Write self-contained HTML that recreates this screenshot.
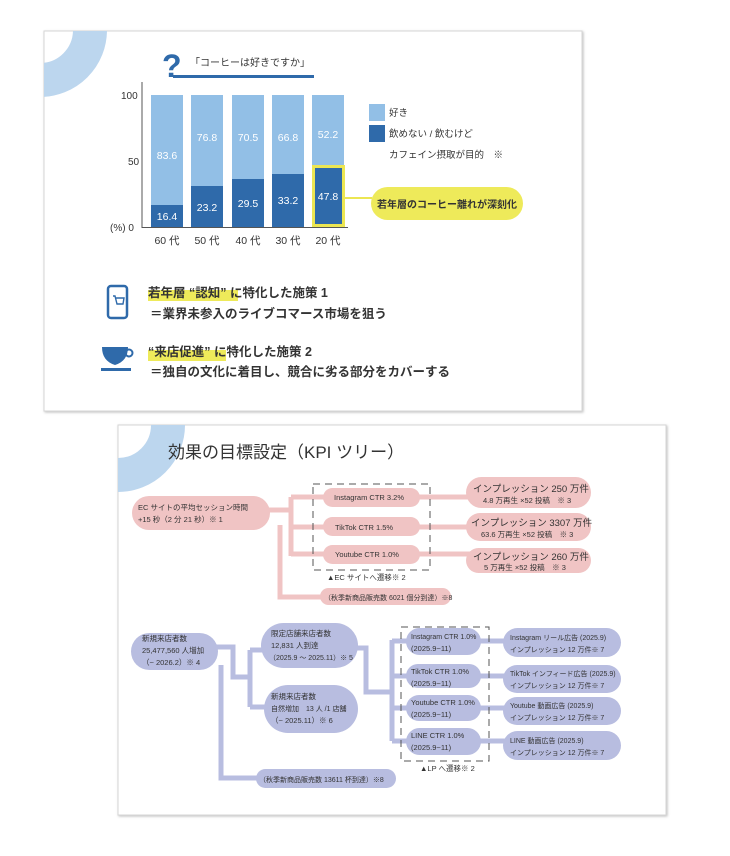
<!DOCTYPE html>
<html><head><meta charset="utf-8"><style>
html,body{margin:0;padding:0;background:#fff;}
svg{display:block;font-family:"Liberation Sans","Noto Sans CJK JP",sans-serif;}
text{fill:#333;}
.w{fill:#fff;}
</style></head><body>
<svg width="730" height="856" viewBox="0 0 730 856" xmlns="http://www.w3.org/2000/svg">
<defs>
<clipPath id="c1"><rect x="44" y="31" width="538" height="380"/></clipPath>
<clipPath id="c2"><rect x="118" y="425" width="548" height="390"/></clipPath>
<filter id="sh" x="-5%" y="-5%" width="110%" height="110%"><feDropShadow dx="1" dy="1" stdDeviation="1.2" flood-color="#000" flood-opacity="0.25"/></filter>
</defs>
<!-- Card 1 -->
<rect x="44" y="31" width="538" height="380" fill="#fff" stroke="#d6d6d6" filter="url(#sh)"/>
<g clip-path="url(#c1)"><circle cx="40" cy="30" r="50" fill="none" stroke="#bcd6ee" stroke-width="34"/></g>
<text x="162" y="77" font-size="32" font-weight="bold" style="fill:#2f6aaa">?</text>
<rect x="173" y="75" width="141" height="3" fill="#2f6aaa"/>
<text x="190" y="66" font-size="10">「コーヒーは好きですか」</text>
<line x1="142" y1="82" x2="142" y2="228" stroke="#555" stroke-width="1"/>
<line x1="142" y1="227.5" x2="348" y2="227.5" stroke="#555" stroke-width="1"/>
<g font-size="10"><text x="121" y="99">100</text><text x="128" y="165">50</text><text x="110" y="231">(%) 0</text></g>
<g>
<rect x="151" y="95" width="32" height="132" fill="#92bfe6"/><rect x="151" y="205" width="32" height="22" fill="#2f6aaa"/>
<rect x="191" y="95" width="32" height="132" fill="#92bfe6"/><rect x="191" y="186" width="32" height="41" fill="#2f6aaa"/>
<rect x="232" y="95" width="32" height="132" fill="#92bfe6"/><rect x="232" y="179" width="32" height="48" fill="#2f6aaa"/>
<rect x="272" y="95" width="32" height="132" fill="#92bfe6"/><rect x="272" y="174" width="32" height="53" fill="#2f6aaa"/>
<rect x="312" y="95" width="32" height="132" fill="#92bfe6"/><rect x="312" y="166" width="32" height="61" fill="#2f6aaa"/>
<rect x="313.5" y="166.5" width="30" height="59" fill="none" stroke="#ece652" stroke-width="3"/>
</g>
<g font-size="10.5" text-anchor="middle">
<text class="w" x="167" y="159">83.6</text><text class="w" x="207" y="141">76.8</text><text class="w" x="248" y="141">70.5</text><text class="w" x="288" y="141">66.8</text><text class="w" x="328" y="138">52.2</text>
<text class="w" x="167" y="220">16.4</text><text class="w" x="207" y="211">23.2</text><text class="w" x="248" y="207">29.5</text><text class="w" x="288" y="204">33.2</text><text class="w" x="328" y="200">47.8</text>
</g>
<g font-size="10.5" text-anchor="middle"><text x="167" y="244">60 代</text><text x="207" y="244">50 代</text><text x="248" y="244">40 代</text><text x="288" y="244">30 代</text><text x="328" y="244">20 代</text></g>
<line x1="345" y1="198" x2="372" y2="198" stroke="#ece652" stroke-width="2"/>
<rect x="371" y="187" width="152" height="33" rx="16.5" fill="#eeea5a"/>
<text x="447" y="208" font-size="10" font-weight="bold" text-anchor="middle">若年層のコーヒー離れが深刻化</text>
<rect x="369" y="104" width="16" height="17" fill="#92bfe6"/><rect x="369" y="125" width="16" height="17" fill="#2f6aaa"/>
<g font-size="9.5"><text x="389" y="116">好き</text><text x="389" y="137">飲めない / 飲むけど</text><text x="389" y="158">カフェイン摂取が目的　※</text></g>
<rect x="108" y="286" width="19" height="32" rx="3" fill="none" stroke="#2f6aaa" stroke-width="2.5"/>
<path d="M113 296 h2 l2 8 h6 l1-6 h-8" fill="none" stroke="#2f6aaa" stroke-width="1.4"/>
<path d="M102 347 h26 q0 14 -13 18 q-13 -4 -13 -18z" fill="#2f6aaa"/>
<circle cx="129" cy="353" r="3.5" fill="none" stroke="#2f6aaa" stroke-width="2"/>
<rect x="101" y="368" width="30" height="3" fill="#2f6aaa"/>
<rect x="148" y="290" width="90" height="11" fill="#eeea5a"/>
<rect x="148" y="350" width="78" height="11" fill="#eeea5a"/>
<g font-size="12.5" font-weight="bold">
<text x="148" y="297">若年層 “認知” に特化した施策 1</text>
<text x="150" y="318">＝業界未参入のライブコマース市場を狙う</text>
<text x="148" y="356">“来店促進” に特化した施策 2</text>
<text x="150" y="376">＝独自の文化に着目し、競合に劣る部分をカバーする</text>
</g>
<!-- Card 2 -->
<rect x="118" y="425" width="548" height="390" fill="#fff" stroke="#d6d6d6" filter="url(#sh)"/>
<g clip-path="url(#c2)"><circle cx="118" cy="425" r="50" fill="none" stroke="#bcd6ee" stroke-width="34"/></g>
<text x="168" y="458" font-size="17">効果の目標設定（KPI ツリー）</text>
<g stroke="#f0c4c4" stroke-width="5" fill="none">
<path d="M265 510 H291 M291 497 V556 M291 497 H330 M291 527 H330 M291 554 H330"/>
<path d="M415 497 H470 M415 527 H470 M415 554 H470"/>
<path d="M280 525 V597 H325"/>
</g>
<g fill="#f0c4c4">
<rect x="132" y="496" width="138" height="34" rx="17"/>
<rect x="323" y="488" width="97" height="19" rx="9.5"/>
<rect x="323" y="517" width="97" height="19" rx="9.5"/>
<rect x="323" y="545" width="97" height="19" rx="9.5"/>
<rect x="466" y="477" width="125" height="31" rx="15.5"/>
<rect x="466" y="513" width="125" height="28" rx="14"/>
<rect x="466" y="548" width="125" height="25" rx="12.5"/>
<rect x="320" y="588" width="131" height="17" rx="8.5"/>
</g>
<rect x="313" y="484" width="117" height="86" fill="none" stroke="#555" stroke-dasharray="7,5"/>
<g font-size="7.5">
<text x="138" y="510">EC サイトの平均セッション時間</text><text x="138" y="522">+15 秒（2 分 21 秒）※ 1</text>
<text x="334" y="500">Instagram CTR 3.2%</text><text x="335" y="530">TikTok CTR 1.5%</text><text x="335" y="557">Youtube CTR 1.0%</text>
<text x="327" y="580">▲EC サイトへ遷移※ 2</text>
<text x="324" y="600" font-size="7">（秋季新商品販売数 6021 個分到達）※8</text>
<text x="483" y="503">4.8 万再生 ×52 投稿　※ 3</text><text x="481" y="537">63.6 万再生 ×52 投稿　※ 3</text><text x="484" y="570">5 万再生 ×52 投稿　※ 3</text>
</g>
<g font-size="9.5"><text x="473" y="492">インプレッション 250 万件</text><text x="471" y="526">インプレッション 3307 万件</text><text x="473" y="560">インプレッション 260 万件</text></g>
<g stroke="#b8bde0" stroke-width="5" fill="none">
<path d="M215 647 H233 V677 H250 M250 650 V707 M250 650 H265 M250 707 H268"/>
<path d="M355 648 H366 V692 H392 M392 640 V741 M392 641 H410 M392 676 H410 M392 708 H410 M392 741 H410"/>
<path d="M478 641 H506 M478 676 H506 M478 708 H506 M478 741 H506"/>
<path d="M221 665 V778 H262"/>
</g>
<g fill="#b8bde0">
<rect x="131" y="633" width="87" height="37" rx="18.5"/>
<rect x="261" y="623" width="97" height="45" rx="22.5"/>
<rect x="264" y="685" width="94" height="48" rx="24"/>
<rect x="406" y="628" width="75" height="27" rx="13.5"/>
<rect x="406" y="664" width="75" height="24" rx="12"/>
<rect x="406" y="695" width="75" height="26" rx="13"/>
<rect x="406" y="728" width="75" height="27" rx="13.5"/>
<rect x="503" y="628" width="118" height="29" rx="14.5"/>
<rect x="503" y="665" width="118" height="28" rx="14"/>
<rect x="503" y="697" width="118" height="28" rx="14"/>
<rect x="503" y="731" width="118" height="29" rx="14.5"/>
<rect x="256" y="769" width="140" height="19" rx="9.5"/>
</g>
<rect x="401" y="627" width="88" height="134" fill="none" stroke="#555" stroke-dasharray="7,5"/>
<g font-size="7.5">
<text x="142" y="641">新規来店者数</text><text x="142" y="653">25,477,560 人増加</text><text x="142" y="665">（~ 2026.2）※ 4</text>
<text x="271" y="636">限定店舗来店者数</text><text x="271" y="648">12,831 人到達</text><text x="269" y="660" font-size="7">（2025.9 ～ 2025.11）※ 5</text>
<text x="271" y="699">新規来店者数</text><text x="271" y="711" font-size="7">自然増加　13 人 /1 店舗</text><text x="271" y="723">（~ 2025.11）※ 6</text>
<text x="411" y="639" font-size="7">Instagram CTR 1.0%</text><text x="411" y="651">(2025.9~11)</text>
<text x="411" y="674">TikTok CTR 1.0%</text><text x="411" y="686">(2025.9~11)</text>
<text x="411" y="705">Youtube CTR 1.0%</text><text x="411" y="717">(2025.9~11)</text>
<text x="411" y="738">LINE CTR 1.0%</text><text x="411" y="750">(2025.9~11)</text>
<text x="420" y="771">▲LP へ遷移※ 2</text>
<text x="259" y="782" font-size="7">（秋季新商品販売数 13611 杯到達）※8</text>
</g>
<g font-size="7">
<text x="510" y="640">Instagram リール広告 (2025.9)</text><text x="510" y="652">インプレッション 12 万件※ 7</text>
<text x="510" y="676">TikTok インフィード広告 (2025.9)</text><text x="510" y="688">インプレッション 12 万件※ 7</text>
<text x="510" y="708">Youtube 動画広告 (2025.9)</text><text x="510" y="720">インプレッション 12 万件※ 7</text>
<text x="510" y="743">LINE 動画広告 (2025.9)</text><text x="510" y="755">インプレッション 12 万件※ 7</text>
</g>
</svg>
</body></html>
